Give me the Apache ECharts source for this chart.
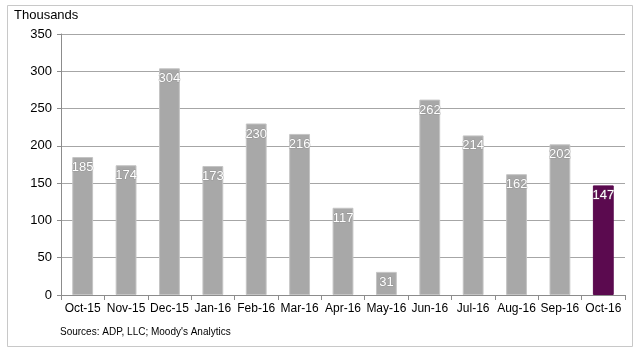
<!DOCTYPE html>
<html><head><meta charset="utf-8">
<script src="https://cdn.jsdelivr.net/npm/echarts@6/dist/echarts.min.js"></script>
<style>html,body{margin:0;padding:0;background:#fff}#c{width:640px;height:350px}</style>
</head><body><div id="c"></div>
<script>
const categories = ['Oct-15','Nov-15','Dec-15','Jan-16','Feb-16','Mar-16','Apr-16','May-16','Jun-16','Jul-16','Aug-16','Sep-16','Oct-16'];
const values = [185,174,304,173,230,216,117,31,262,214,162,202,147];
const highlightIndex = 12;
const yTicks = [0,50,100,150,200,250,300,350];

const chart = echarts.init(document.getElementById('c'), null, {renderer:'canvas'});
const font = 'Arial, "Liberation Sans", sans-serif';
chart.setOption({
  animation:false,
  backgroundColor:'#fff',
  graphic:[
    {type:'rect', shape:{x:7.5,y:5.5,width:625,height:341}, style:{fill:'none', stroke:'#c8c8c8', lineWidth:1}},
    {type:'text', left:14, top:9, style:{text:'Thousands', font:'13px '+font, fill:'#000'}},
    {type:'text', left:60, top:327, style:{text:"Sources: ADP, LLC; Moody's Analytics", font:'10px '+font, fill:'#000'}}
  ],
  grid:{left:61, right:15, top:34, bottom:55, containLabel:false},
  xAxis:{type:'category', data:categories,
    axisLine:{lineStyle:{color:'#8c8c8c'}},
    axisTick:{show:true, alignWithLabel:false, length:5, inside:false, lineStyle:{color:'#8c8c8c'}},
    axisLabel:{color:'#000', fontSize:12, fontFamily:font, margin:8, interval:0}},
  yAxis:{type:'value', min:yTicks[0], max:yTicks[yTicks.length-1], interval:50,
    axisLine:{show:true, lineStyle:{color:'#8c8c8c'}},
    axisTick:{show:true, length:4, lineStyle:{color:'#8c8c8c'}},
    splitLine:{lineStyle:{color:'#a6a6a6'}},
    axisLabel:{color:'#000', fontSize:13, fontFamily:font, margin:9}},
  series:[{type:'bar', barWidth:'48%',
    data: values.map((v,i)=>({value:v, itemStyle:{color: i===highlightIndex?'#5b0a4f':'#a8a8a8', borderColor: i===highlightIndex?'#5b0a4f':'#c4c4c4', borderWidth:1}})),
    label:{show:true, position:'insideTop', distance:4, color:'#fff', fontSize:13, fontFamily:font,
      textBorderColor:'rgba(130,130,130,0.45)', textBorderWidth:1}}]
});
</script></body></html>
